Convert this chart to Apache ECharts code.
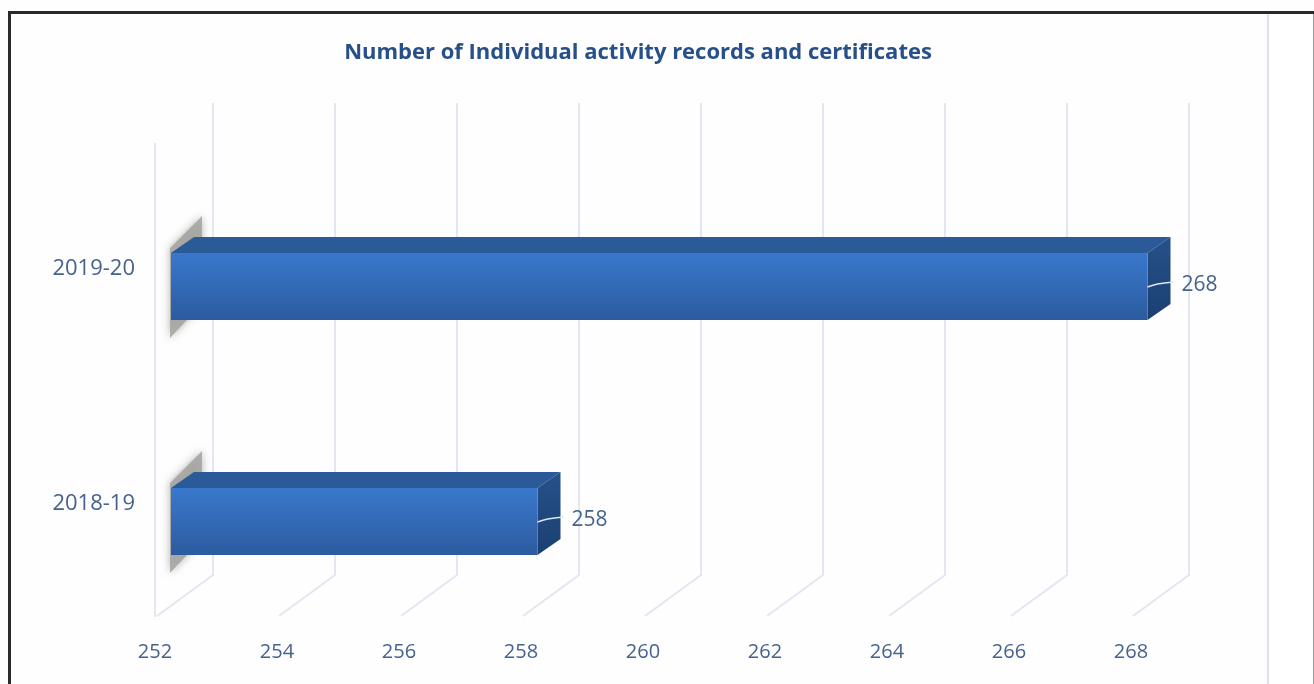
<!DOCTYPE html>
<html>
<head>
<meta charset="utf-8">
<style>
html,body{margin:0;padding:0;background:#fff;}
#c{width:1314px;height:684px;filter:blur(0.7px);}
</style>
<script src="https://cdn.jsdelivr.net/npm/echarts@6/dist/echarts.min.js"></script>
</head>
<body>
<div id="c"></div>
<script>
const titleText = 'Number of Individual activity records and certificates';
const categories = ['2018-19', '2019-20'];
const values = [258, 268];
const gridTicks = [252, 254, 256, 258, 260, 262, 264, 266, 268];

const FONT = '"Open Sans", sans-serif';
const TXT = '#46628f';
const WALL = '#e2e7f2';
const chart = echarts.init(document.getElementById('c'));

function renderWall(params, api) {
  const v = api.value(0);
  const cs = params.coordSys;
  const x = api.coord([v, 0])[0];
  const top = cs.y - 8, bottom = cs.y + cs.height - 4;
  const dx = 58, dy = 42;
  const children = [{
    type: 'polyline',
    shape: { points: [[x + dx, top - 40], [x + dx, bottom - dy], [x + 2, bottom - 1]] },
    style: { stroke: WALL, fill: null, lineWidth: 2 }
  }];
  if (v === gridTicks[0]) {
    children.push({
      type: 'line',
      shape: { x1: x, y1: top, x2: x, y2: bottom },
      style: { stroke: WALL, lineWidth: 2 }
    });
  }
  return { type: 'group', children };
}

function renderBar(params, api) {
  const val = api.value(0);
  const cy = api.coord([val, api.value(1)])[1];
  const xe = api.coord([val, 0])[0] + 16.5;
  const xs = api.coord([gridTicks[0], 0])[0] + 16;
  const t = Math.round(cy - 16), b = Math.round(cy + 51);
  const ox = 23, oy = 16;
  const grad = (a, c) => new echarts.graphic.LinearGradient(0, 0, 0, 1, [
    { offset: 0, color: a }, { offset: 1, color: c }
  ]);
  const midY = t + 32;
  return {
    type: 'group',
    children: [
      { type: 'polygon',
        shape: { points: [[xs - 1, t - 5], [xs + 31, t - 37], [xs + 31, t + 51], [xs - 1, b + 18]] },
        style: { fill: 'rgba(165,163,160,0.85)', shadowBlur: 8, shadowColor: 'rgba(130,130,130,0.7)' } },
      { type: 'polygon',
        shape: { points: [[xs, t], [xs + ox, t - oy], [xe + ox, t - oy], [xe, t]] },
        style: { fill: '#2a5a98' } },
      { type: 'polygon',
        shape: { points: [[xe, t], [xe + ox, t - oy], [xe + ox, b - oy], [xe, b]] },
        style: { fill: grad('#265189', '#1b3f72') } },
      { type: 'rect',
        shape: { x: xs, y: t, width: xe - xs, height: b - t },
        style: { fill: grad('#3978cc', '#2c5b9f') } },
      { type: 'polyline',
        shape: { points: [[xe, midY + 2], [xe + 10, midY - 1], [xe + ox + 3, midY - 3]], smooth: 0.4 },
        style: { stroke: '#dfe6f2', fill: null, lineWidth: 1.5 } },
      { type: 'text',
        style: { x: xe + 34, y: midY, text: String(val), font: '21px ' + FONT, fill: TXT,
          textAlign: 'left', textVerticalAlign: 'middle' } }
    ]
  };
}

chart.setOption({
  animation: false,
  backgroundColor: '#fefefe',
  title: {
    text: titleText, left: 633, top: 37, textAlign: 'center',
    textStyle: { color: '#274f8a', fontFamily: FONT, fontSize: 22, fontWeight: 'bold' }
  },
  grid: { left: 155, right: 183, top: 151, height: 470 },
  xAxis: {
    type: 'value', min: 252, max: 268, interval: 2,
    axisLine: { show: false }, axisTick: { show: false }, splitLine: { show: false },
    axisLabel: { color: TXT, fontFamily: FONT, fontSize: 20, margin: 21 }
  },
  yAxis: {
    type: 'category', data: categories,
    axisLine: { show: false }, axisTick: { show: false }, splitLine: { show: false },
    axisLabel: { color: TXT, fontFamily: FONT, fontSize: 22, margin: 20, padding: [3, 0, 0, 0] }
  },
  graphic: [
    { type: 'rect', silent: true, z: 10, shape: { x: 8, y: 11, width: 1306, height: 3 }, style: { fill: '#2a2a2c' } },
    { type: 'rect', silent: true, z: 10, shape: { x: 8, y: 11, width: 3, height: 673 }, style: { fill: '#2a2a2c' } },
    { type: 'rect', silent: true, z: 10, shape: { x: 1267, y: 14, width: 2, height: 670 }, style: { fill: '#dce2f0' } },
    { type: 'rect', silent: true, z: 10, shape: { x: 1269, y: 14, width: 45, height: 670 }, style: { fill: '#ffffff' } },
    { type: 'rect', silent: true, z: 10, shape: { x: 1313, y: 14, width: 1, height: 670 }, style: { fill: '#9a9a9a' } }
  ],
  series: [
    { type: 'custom', renderItem: renderWall, clip: false, silent: true, z: 1,
      data: gridTicks.map(v => [v]), encode: { x: 0 } },
    { type: 'custom', renderItem: renderBar, clip: false, silent: true, z: 2,
      data: values.map((v, i) => [v, i]), encode: { x: 0, y: 1 } }
  ]
});
</script>
</body>
</html>
